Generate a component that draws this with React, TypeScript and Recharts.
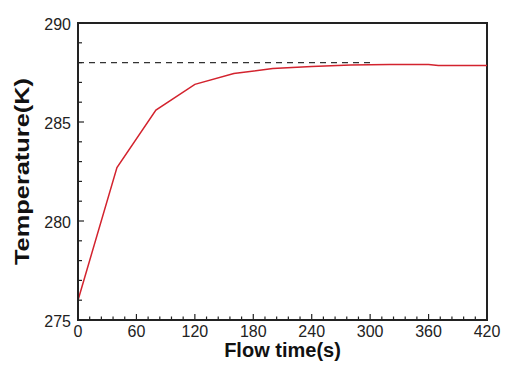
import React from 'react';
import { LineChart, Line, XAxis, YAxis, ReferenceLine, ReferenceArea } from 'recharts';

const flowTime = [0, 40, 80, 120, 160, 200, 240, 280, 320, 360, 370, 420];
const temperature = [276.0, 282.7, 285.6, 286.9, 287.45, 287.7, 287.8, 287.88, 287.9, 287.9, 287.85, 287.85];
const targetTemp = 288;
const targetEnd = 300;

const xLabels = [0, 60, 120, 180, 240, 300, 360, 420];
const xMinorStep = 12;
const yLabels = [275, 280, 285, 290];
const yMinorStep = 1;

const xTicks = Array.from({ length: 420 / xMinorStep + 1 }, (_, i) => i * xMinorStep);
const yTicks = Array.from({ length: 15 / yMinorStep + 1 }, (_, i) => 275 + i * yMinorStep);

const data = flowTime.map((t, i) => ({ t, temp: temperature[i] }));

const FONT = "'Liberation Sans', Arial, Helvetica, sans-serif";
const AXIS = '#222';

const XTick = (props: any) => {
  const { x, y, payload } = props;
  const major = xLabels.includes(payload.value);
  return (
    <g>
      <line x1={x} x2={x} y1={y} y2={y - (major ? 6 : 3.5)} stroke={AXIS} strokeWidth={1.2} />
      {major && (
        <text x={x} y={y + 17} textAnchor="middle" fontSize={16} fontFamily={FONT} fill="#222">
          {payload.value}
        </text>
      )}
    </g>
  );
};

const YTick = (props: any) => {
  const { x, y, payload } = props;
  const major = yLabels.includes(payload.value);
  return (
    <g>
      <line x1={x} x2={x + (major ? 6 : 4)} y1={y} y2={y} stroke={AXIS} strokeWidth={1.2} />
      {major && (
        <text x={x - 7} y={y + 1.5} dy="0.355em" textAnchor="end" fontSize={16} fontFamily={FONT} fill="#222">
          {payload.value}
        </text>
      )}
    </g>
  );
};

const XTitle = (props: any) => {
  const vb = props.viewBox;
  return (
    <text x={vb.x + vb.width / 2} y={vb.y + 37} textAnchor="middle" fontSize={20} fontWeight="bold" fontFamily={FONT} fill="#111">
      Flow time(s)
    </text>
  );
};

const YTitle = (props: any) => {
  const vb = props.viewBox;
  const cx = vb.x + 21;
  const cy = vb.y + vb.height / 2;
  return (
    <text
      x={cx}
      y={cy}
      textAnchor="middle"
      dominantBaseline="central"
      transform={`rotate(-90, ${cx}, ${cy})`}
      fontSize={21}
      fontWeight="bold"
      fontFamily={FONT}
      fill="#111"
      textLength={187}
      lengthAdjust="spacingAndGlyphs"
    >
      Temperature(K)
    </text>
  );
};

export default function App() {
  return (
    <div style={{ position: 'absolute', left: 0, top: 0, width: 522, height: 381, background: '#fff' }}>
      <LineChart width={522} height={381} data={data} margin={{ top: 23, right: 35, left: 0, bottom: 0 }}>
        <XAxis
          dataKey="t"
          type="number"
          domain={[0, 420]}
          ticks={xTicks}
          interval={0}
          tickSize={0}
          tickMargin={0}
          tickLine={false}
          tick={(p: any) => <XTick {...p} />}
          axisLine={{ stroke: AXIS, strokeWidth: 2 }}
          height={61}
          label={{ content: (p: any) => <XTitle {...p} /> }}
        />
        <YAxis
          type="number"
          domain={[275, 290]}
          ticks={yTicks}
          interval={0}
          tickSize={0}
          tickMargin={0}
          tickLine={false}
          tick={(p: any) => <YTick {...p} />}
          axisLine={{ stroke: AXIS, strokeWidth: 2 }}
          width={78}
          allowDataOverflow
          label={{ content: (p: any) => <YTitle {...p} /> }}
        />
        <ReferenceArea x1={0} x2={420} y1={275} y2={290} fill="none" fillOpacity={0} stroke={AXIS} strokeWidth={2} />
        <ReferenceLine
          segment={[{ x: 0, y: targetTemp }, { x: targetEnd, y: targetTemp }]}
          stroke="#333"
          strokeWidth={1.2}
          strokeDasharray="6 5"
        />
        <Line
          type="linear"
          dataKey="temp"
          stroke="#d3232e"
          strokeWidth={1.5}
          dot={false}
          isAnimationActive={false}
        />
      </LineChart>
    </div>
  );
}
